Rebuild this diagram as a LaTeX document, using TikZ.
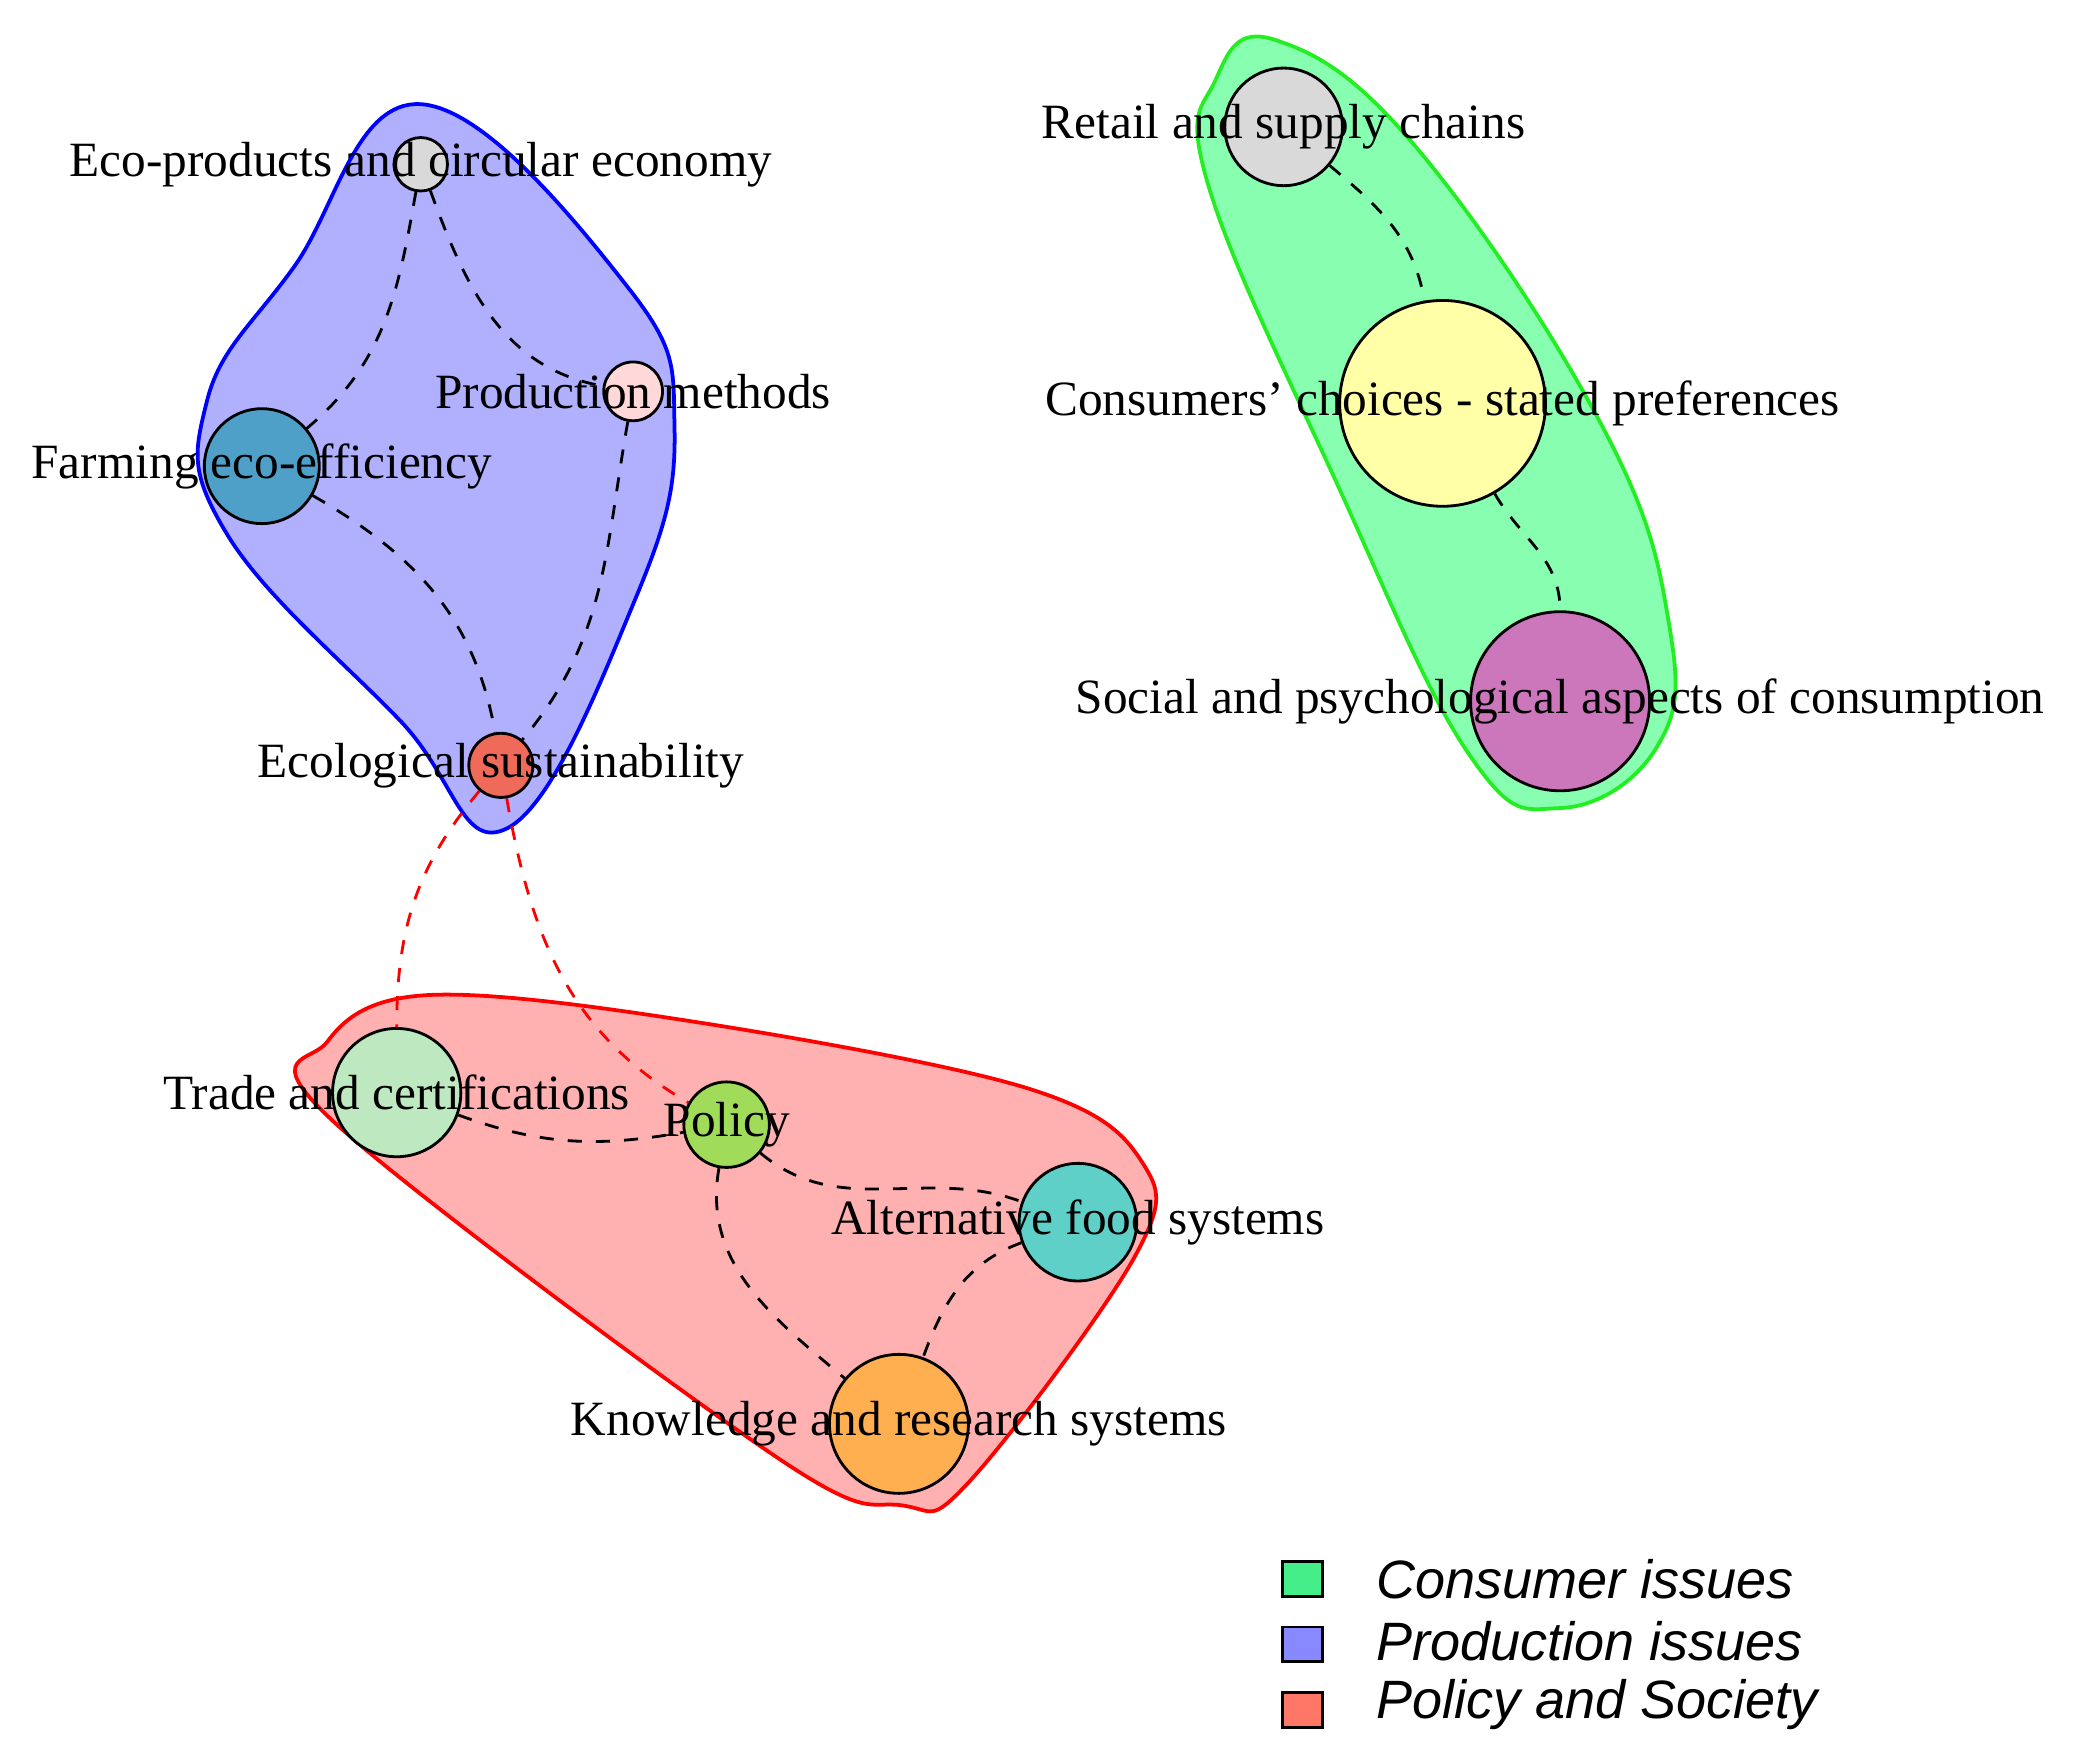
\documentclass[tikz,border=0pt]{standalone}
\usepackage{fontspec}
\setmainfont{Liberation Serif}
\newfontfamily\legendfont{Liberation Sans}
\usetikzlibrary{positioning, backgrounds}
\pgfdeclarelayer{hull}
\pgfsetlayers{hull,background,main}

\definecolor{prodfill}{HTML}{B0B0FF}
\definecolor{consfill}{HTML}{88FFB0}
\definecolor{consline}{HTML}{22EE22}
\definecolor{polfill}{HTML}{FFB0B0}

\begin{document}
\begin{tikzpicture}[
    x=0.01cm, y=-0.01cm,
    topic/.style={circle, draw, line width=0.6pt, inner sep=0pt},
    lbl/.style={font=\fontsize{10.5}{12}\selectfont},
    link/.style={dashed, line width=0.6pt},
    crosslink/.style={dashed, line width=0.6pt, draw=red},
    hullline/.style={line width=0.8pt},
    legbox/.style={draw, line width=0.6pt, minimum width=0.3cm, minimum height=0.26cm, inner sep=0pt},
    legtext/.style={font=\legendfont\itshape\fontsize{11.5}{13}\selectfont, anchor=west}
]
\useasboundingbox (0,0) rectangle (1552,1307);

% ============ CLUSTERS ============
\begin{pgfonlayer}{hull}
\draw[hullline, draw=blue, fill=prodfill] plot[smooth cycle, tension=0.7] coordinates
    {(315,78) (470,215) (505,320) (475,450) (380,620) (300,540) (170,400) (155,300) (220,200)};
\draw[hullline, draw=consline, fill=consfill] plot[smooth cycle, tension=0.7] coordinates
    {(955,30) (1060,110) (1200,320) (1250,470) (1240,560) (1168,605) (1100,565) (1000,360) (905,140) (910,60)};
\draw[hullline, draw=red, fill=polfill] plot[smooth cycle, tension=0.6] coordinates
    {(320,745) (520,765) (770,815) (855,870) (850,940) (725,1110) (675,1127) (580,1090) (250,840) (245,780)};
\end{pgfonlayer}

% ============ TOPICS ============
\node[topic, fill=gray!30, minimum size=0.4cm] (eco) at (315,123) {};
\node[topic, fill=pink!60, minimum size=0.44cm] (prod) at (474,293) {};
\node[topic, fill={rgb,255:red,79;green,160;blue,200}, minimum size=0.86cm] (farm) at (196,349) {};
\node[topic, fill={rgb,255:red,240;green,106;blue,90}, minimum size=0.48cm] (ecol) at (375,573) {};
\node[topic, fill=gray!30, minimum size=0.88cm] (retail) at (961,95) {};
\node[topic, fill={rgb,255:red,255;green,255;blue,168}, minimum size=1.54cm] (cons) at (1080,302) {};
\node[topic, fill={rgb,255:red,204;green,119;blue,187}, minimum size=1.34cm] (social) at (1168,525) {};
\node[topic, fill={rgb,255:red,189;green,232;blue,192}, minimum size=0.96cm] (trade) at (297,818) {};
\node[topic, fill={rgb,255:red,160;green,220;blue,90}, minimum size=0.64cm] (policy) at (544,842) {};
\node[topic, fill={rgb,255:red,94;green,208;blue,200}, minimum size=0.88cm] (alt) at (807,915) {};
\node[topic, fill={rgb,255:red,255;green,174;blue,80}, minimum size=1.04cm] (know) at (673,1066) {};

\node[lbl] at (eco) {Eco-products and circular economy};
\node[lbl] at (prod) {Production methods};
\node[lbl] at (farm) {Farming eco-efficiency};
\node[lbl] at (ecol) {Ecological sustainability};
\node[lbl] at (retail) {Retail and supply chains};
\node[lbl] at (cons) {Consumers' choices - stated preferences};
\node[lbl] at (social) {Social and psychological aspects of consumption};
\node[lbl] at (trade) {Trade and certifications};
\node[lbl] at (policy) {Policy};
\node[lbl] at (alt) {Alternative food systems};
\node[lbl] at (know) {Knowledge and research systems};

% ============ LINKS ============
\begin{scope}[on background layer]
\draw[link] (eco) to[out=-100, in=40] (farm);
\draw[link] (eco) to[out=-70, in=170] (prod);
\draw[link] (farm) to[out=-30, in=100] (ecol);
\draw[link] (prod) to[out=-100, in=50] (ecol);
\draw[link] (retail) to[out=-40, in=100] (cons);
\draw[link] (cons) to[out=-60, in=90] (social);
\draw[link] (trade) to[out=-20, in=190] (policy);
\draw[link] (policy) to[out=-40, in=160] (alt);
\draw[link] (policy) to[out=-100, in=140] (know);
\draw[link] (alt) to[out=200, in=70] (know);
\draw[crosslink] (ecol) to[out=-130, in=90] (trade);
\draw[crosslink] (ecol) to[out=-80, in=150] (policy);
\end{scope}

% ============ LEGEND ============
\node[legbox, fill={rgb,255:red,68;green,238;blue,136}] (kcons) at (975,1182) {};
\node[legbox, fill={rgb,255:red,136;green,136;blue,255}, below=0.21cm of kcons] (kprod) {};
\node[legbox, fill={rgb,255:red,255;green,119;blue,102}, below=0.21cm of kprod] (kpol) {};
\node[legtext] at (1018,1182) {Consumer issues};
\node[legtext] at (1018,1229) {Production issues};
\node[legtext] at (1018,1276) {Policy and Society};

\end{tikzpicture}
\end{document}
